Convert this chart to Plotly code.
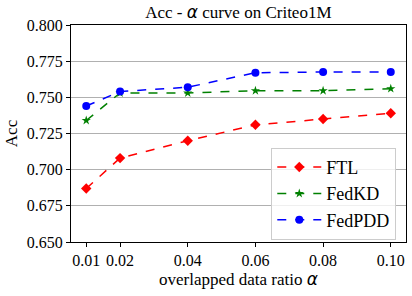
import plotly.graph_objects as go

x_vals = [0.01, 0.02, 0.04, 0.06, 0.08, 0.10]
ftl = [0.687, 0.708, 0.720, 0.731, 0.735, 0.739]
fedkd = [0.734, 0.753, 0.753, 0.7546, 0.7546, 0.756]
fedpdd = [0.744, 0.754, 0.757, 0.767, 0.7675, 0.7675]
y_ticks = [0.650, 0.675, 0.700, 0.725, 0.750, 0.775, 0.800]

serif = "Liberation Serif, Times New Roman, serif"
alpha = '<span style="font-family:DejaVu Sans"><i>α</i></span>'

fig = go.Figure()
series = [
    ("FTL", ftl, "red", "diamond", 8),
    ("FedKD", fedkd, "green", "star", 7),
    ("FedPDD", fedpdd, "blue", "circle", 8),
]
for name, ys, color, sym, size in series:
    fig.add_trace(go.Scatter(
        x=x_vals, y=ys, name=name, mode="lines+markers",
        line=dict(color=color, dash="dash", width=1.5),
        marker=dict(symbol=sym, size=size, color=color),
    ))

fig.update_layout(
    width=412, height=296,
    margin=dict(l=71, r=6, t=25, b=54),
    paper_bgcolor="white", plot_bgcolor="white",
    font=dict(family=serif, size=16, color="black"),
    title=dict(text="Acc - " + alpha + " curve on Criteo1M", x=(71 + 405.7) / 2 / 412,
               xanchor="center", y=0.96, yanchor="middle", font=dict(size=17)),
    showlegend=True,
    legend=dict(x=0.971, y=0.01, xanchor="right", yanchor="bottom",
                bgcolor="rgba(255,255,255,0.8)", bordercolor="#cccccc", borderwidth=1,
                font=dict(size=18), itemwidth=44, tracegroupgap=2),
)
fig.update_xaxes(
    range=[0.0055, 0.1045], tickvals=x_vals, tickformat=".2f",
    showgrid=False, zeroline=False, showline=True, linecolor="black", linewidth=1,
    mirror=True, ticks="outside", ticklen=4, tickcolor="black",
    title=dict(text="overlapped data ratio " + alpha, font=dict(size=17), standoff=4),
)
fig.update_yaxes(
    range=[0.65, 0.80], tickvals=y_ticks, tickformat=".3f",
    showgrid=True, gridcolor="#b0b0b0", gridwidth=1, zeroline=False,
    showline=True, linecolor="black", linewidth=1, mirror=True,
    ticks="outside", ticklen=4, tickcolor="black",
    title=dict(text="Acc", font=dict(size=17), standoff=4),
)
fig.write_html("out.html", config={"displayModeBar": False},
               post_script="document.body.style.margin='0';document.body.style.overflow='hidden';")
